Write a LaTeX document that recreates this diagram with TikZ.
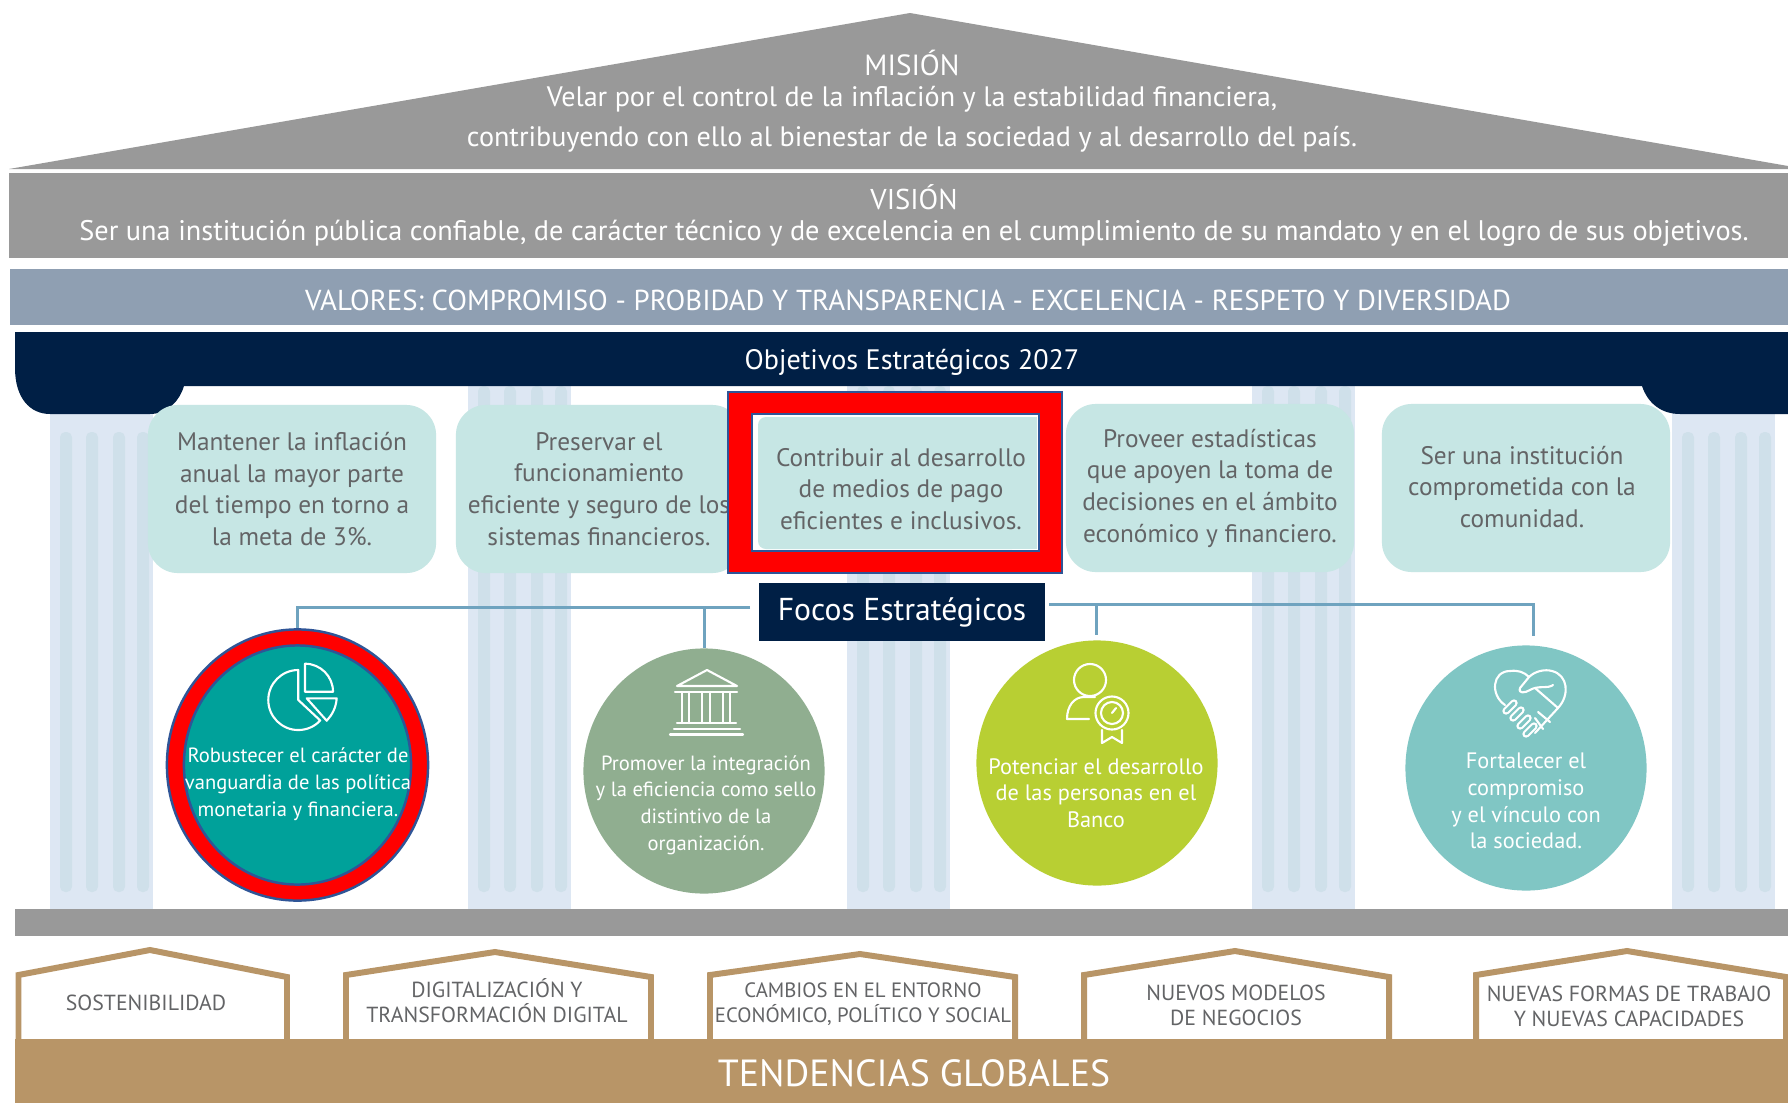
\documentclass[tikz,border=0pt]{standalone}
\usepackage{fontspec}
\setmainfont{PT Sans}
\usetikzlibrary{shapes.geometric}
\definecolor{gris}{HTML}{999999}
\definecolor{grisazul}{HTML}{8F9FB2}
\definecolor{marino}{HTML}{001F45}
\definecolor{columna}{HTML}{DDE7F3}
\definecolor{estria}{HTML}{CFE0EA}
\definecolor{hoja}{HTML}{C6E6E4}
\definecolor{texto}{HTML}{636466}
\definecolor{borde}{HTML}{2F5597}
\definecolor{linea}{HTML}{6FA3BF}
\definecolor{oro}{HTML}{B89567}
\definecolor{foco1}{HTML}{00A19A}
\definecolor{foco2}{HTML}{90AE90}
\definecolor{foco3}{HTML}{B8CF33}
\definecolor{foco4}{HTML}{80C6C4}
\newcommand{\tam}[2]{\fontsize{#1}{#2}\selectfont}
\tikzset{
    blanco/.style={text=white,align=center,inner sep=0pt},
    objetivo/.style={fill=hoja,text=texto,rounded corners=.3cm,align=center,minimum height=1.68cm,font=\tam{7.2}{9}},
    circulo/.style={ellipse,inner sep=0pt,minimum width=2.41cm,minimum height=2.45cm},
    focotexto/.style={blanco,font=\tam{5.85}{7.6}},
    focotextob/.style={blanco,font=\tam{6.35}{7.6}},
    conector/.style={linea,line width=.85pt},
    icono/.style={white,line width=.6pt,line join=round,line cap=round},
    tendencia/.style={text=texto,align=center,inner sep=0pt,font=\tam{6.2}{7.1}},
}
\NewDocumentCommand{\columna}{m m}{ % x izquierda, inicio de las estrias
    \fill[columna] (#1,386) rectangle ++(103,523);
    \foreach \d in {10,36,63,87}
        \fill[estria,rounded corners=1.5pt] (#1+\d,#2) rectangle (#1+\d+12,892);
}
\NewDocumentCommand{\casa}{m m m m}{ % izquierda, cumbre, derecha, altura cumbre
    \draw[oro,line width=1.7pt] (#1,1040) -- (#1,975) -- (#2,#4) -- (#3,977) -- (#3,1040);
}
\begin{document}
\begin{tikzpicture}[x=.01cm,y=-.01cm]
    \useasboundingbox (0,0) rectangle (1788,1103);
    \fill[white] (0,0) rectangle (1788,1103);

    % techo y bandas
    \fill[gris] (9,169) -- (910,13) -- (1788,166) -- (1788,169) -- cycle;
    \fill[gris] (9,173) rectangle (1788,258);
    \fill[grisazul] (10,269) rectangle (1788,325);
    \node[blanco,font=\tam{8.3}{9}] (mision) at (912,63) {MISIÓN};
    \node[blanco,font=\tam{8}{9}] (mision1) at (912,99) {Velar por el control de la inflación y la estabilidad financiera,};
    \node[blanco,font=\tam{8}{9}] (mision2) at (912,139) {contribuyendo con ello al bienestar de la sociedad y al desarrollo del país.};
    \node[blanco,font=\tam{8.15}{9}] (vision) at (914,197) {VISIÓN};
    \node[blanco,font=\tam{8.05}{9}] (vision1) at (914,233) {Ser una institución pública confiable, de carácter técnico y de excelencia en el cumplimiento de su mandato y en el logro de sus objetivos.};
    \node[blanco,font=\tam{8.2}{9}] (valores) at (908,300) {VALORES: COMPROMISO - PROBIDAD Y TRANSPARENCIA - EXCELENCIA - RESPETO Y DIVERSIDAD};

    % columnas
    \columna{50}{432}
    \columna{468}{386}
    \columna{847}{386}
    \columna{1252}{386}
    \columna{1672}{432}

    % capiteles
    \fill[marino] (15,332) -- (15,368) .. controls (15,398) and (30,414) .. (50,414) -- (150,414) .. controls (168,414) and (180,400) .. (184,386)
        -- (1642,386) .. controls (1648,404) and (1662,414) .. (1680,414) -- (1788,414) -- (1788,332) -- cycle;
    \node[blanco,font=\tam{8}{9}] (objetivos) at (912,362) {Objetivos Estratégicos 2027};

    % objetivos
    \node[objetivo,minimum width=2.88cm] (obj1) at (292,489) {Mantener la inflación\\anual la mayor parte\\del tiempo en torno a\\la meta de 3\%.};
    \node[objetivo,minimum width=2.86cm] (obj2) at (599,489) {Preservar el\\funcionamiento\\eficiente y seguro de los\\sistemas financieros.};
    \node[objetivo,minimum width=2.88cm] (obj4) at (1210,488) {Proveer estadísticas\\que apoyen la toma de\\decisiones en el ámbito\\económico y financiero.};
    \node[objetivo,minimum width=2.88cm] (obj5) at (1526,488) {};
    \node[text=texto,align=center,inner sep=0pt,font=\tam{7.2}{9}] (texto5) at (1522,487) {Ser una institución\\comprometida con la\\comunidad.};
    \node[draw=borde,fill=red,line width=.5pt,minimum width=3.34cm,minimum height=1.81cm,inner sep=0pt] (rojo) at (895,482.5) {};
    \node[draw=borde,fill=white,line width=.7pt,minimum width=2.87cm,minimum height=1.37cm,inner sep=0pt] (blanco3) at (895.5,482.5) {};
    \fill[hoja,rounded corners=.08cm] (758,417) rectangle (1020,549);
    \fill[hoja] (900,417) rectangle (1037,549);
    \node[text=texto,align=center,inner sep=0pt,font=\tam{7.2}{9}] (obj3) at (901,489) {Contribuir al desarrollo\\de medios de pago\\eficientes e inclusivos.};

    % focos estrategicos
    \node[fill=marino,text=white,minimum width=2.86cm,minimum height=.58cm,inner sep=0pt,font=\tam{9}{10}] (focos) at (902,612) {Focos Estratégicos};
    \coordinate (fizq) at (750,607);
    \coordinate (fder) at (1049,604);
    \coordinate (fin3) at (1096,635);
    \coordinate (fin4) at (1533,636);

    \node[circulo,fill=red,draw=borde,line width=.7pt,minimum width=2.61cm,minimum height=2.71cm] (foco1) at (297.5,765) {};
    \node[circulo,fill=foco1,draw=borde,line width=.7pt,minimum width=2.27cm,minimum height=2.39cm] (foco1b) at (297.5,765) {};
    \node[circulo,fill=foco2] (foco2) at (704,771) {};
    \node[circulo,fill=foco3] (foco3) at (1097,763) {};
    \node[circulo,fill=foco4] (foco4) at (1526,768) {};

    \draw[conector] (fizq) -| (foco1.north);
    \draw[conector] (foco2.north |- fizq) -- (foco2.north);
    \draw[conector] (fder) -| (fin4);
    \draw[conector] (fin3 |- fder) -- (fin3);

    \node[focotexto] (texto1) at (298,784) {Robustecer el carácter de\\vanguardia de las política\\monetaria y financiera.};
    \node[focotexto] (texto2) at (706,805) {Promover la integración\\y la eficiencia como sello\\distintivo de la\\organización.};
    \node[focotextob] (texto3) at (1096,793) {Potenciar el desarrollo\\de las personas en el\\Banco};
    \node[focotextob] (texto4) at (1526,801) {Fortalecer el\\compromiso\\y el vínculo con\\la sociedad.};

    % iconos
    \draw[icono] (298.3,700) -- (298.3,670) arc[start angle=90,end angle=317,radius=.3cm] -- cycle;
    \draw[icono] (305,691.7) -- (305,663.7) arc[start angle=90,end angle=0,radius=.28cm] -- cycle;
    \draw[icono] (306.7,698.3) -- (336.7,698.3) .. controls (336,708) and (332,715) .. (326.7,720.7) -- cycle;

    \draw[icono] (677,686) -- (707,670) -- (737,686) -- cycle;
    \draw[icono] (675,692) -- (737,692) (677,723) -- (736,723) (674,729) -- (740,729) (670,734.5) -- (743,734.5);
    \foreach \xc in {682,689,702,710,723,730}
        \draw[icono] (\xc,692) -- (\xc,723);

    \draw[icono] (1090,680) circle (.16cm);
    \draw[icono] (1089,719) -- (1067,719) .. controls (1067,706) and (1074,697) .. (1084,697) -- (1095,697);
    \draw[icono] (1112,713) circle (.165cm) (1112,713) circle (.11cm) (1112,713) -- (1116,708);
    \draw[icono] (1102,730) -- (1102,743) -- (1112,737) -- (1122,743) -- (1122,730);

    \draw[icono] (1505,705) .. controls (1490,695) and (1492,671) .. (1510,671) .. controls (1518,670) and (1524,672) .. (1529,677)
        .. controls (1535,671) and (1545,669) .. (1552,671) .. controls (1568,675) and (1570,695) .. (1558,708);
    \draw[icono] (1529,677) -- (1520,688) .. controls (1518,694) and (1525,693) .. (1530,690) .. controls (1538,685) and (1548,689) .. (1553,685);
    \draw[icono] (1535,688) -- (1558,708) -- (1535,733);
    \draw[icono] (1538,712) -- (1550,722) (1535,718) -- (1543,729);
    \foreach \xc/\yc in {1510/707,1517/714,1524/722,1530/730} {
        \draw[white,line width=2.1pt,line cap=round] (\xc-4,\yc+4) -- (\xc+4,\yc-4);
        \draw[foco4,line width=.9pt,line cap=round] (\xc-4,\yc+4) -- (\xc+4,\yc-4);
    }

    % base
    \fill[gris] (15,909) rectangle (1788,936);
    \casa{18.5}{150}{287}{950}
    \casa{346}{495}{651}{952}
    \casa{710}{860}{1015}{954}
    \casa{1084}{1235}{1389}{951}
    \casa{1476}{1627}{1786}{951}
    \fill[oro] (15,1039) rectangle (1788,1103);
    \node[tendencia] (tend1) at (146,1003) {SOSTENIBILIDAD};
    \node[tendencia] (tend2) at (497,1001) {DIGITALIZACIÓN Y\\TRANSFORMACIÓN DIGITAL};
    \node[tendencia,font=\tam{5.9}{7.1}] (tend3) at (863,1004) {CAMBIOS EN EL ENTORNO\\ECONÓMICO, POLÍTICO Y SOCIAL};
    \node[tendencia] (tend4) at (1236,1005) {NUEVOS MODELOS\\DE NEGOCIOS};
    \node[tendencia] (tend5) at (1629,1006) {NUEVAS FORMAS DE TRABAJO\\Y NUEVAS CAPACIDADES};
    \node[blanco,font=\tam{10.75}{12}] (tendencias) at (914,1073) {TENDENCIAS GLOBALES};
\end{tikzpicture}
\end{document}
